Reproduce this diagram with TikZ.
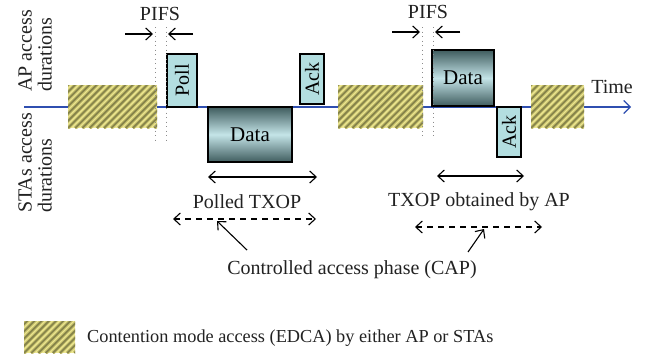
\documentclass[tikz,border=0pt]{standalone}
\usepackage{fontspec}
\usepackage{graphicx}
\setmainfont{Liberation Serif}
\usetikzlibrary{arrows.meta,calc}

\definecolor{axisblue}{HTML}{2F4FB0}
\definecolor{pollfill}{HTML}{B3DEE0}
\definecolor{datadark}{HTML}{3F5C5E}
\definecolor{datalight}{HTML}{C4E4E8}
\definecolor{edcabase}{HTML}{EEE892}
\definecolor{edcamid}{HTML}{C8C26E}
\definecolor{edcadark}{HTML}{85834A}
\definecolor{dotgray}{HTML}{8C8C8C}
\definecolor{textgray}{HTML}{222222}

\tikzset{
  barb/.tip={Straight Barb[length=6.5pt,width=12pt]},
  edca/.style={inner sep=0pt, fill=edcabase,
    path picture={
      \coordinate (pp) at (path picture bounding box.south west);
      \foreach \k in {-9,...,14}{
        \draw[edcamid, line width=3.8pt] ([xshift=\k*7.2pt]pp) -- ++(80pt,80pt);
        \draw[edcadark, line width=1.7pt] ([xshift=\k*7.2pt]pp) -- ++(80pt,80pt);
      }
    }},
  frame/.style={draw=black, line width=1.4pt, inner sep=0pt},
  ctrl/.style={frame, fill=pollfill},
  datablk/.style={frame, top color=datadark, bottom color=datadark, middle color=datalight,
    font=\fontsize{21}{22}\selectfont},
  guide/.style={dotgray, line width=1pt, dash pattern=on 1pt off 3.5pt},
  measure/.style={black, line width=1.1pt, {barb}-{barb}},
  span/.style={black, line width=1.1pt, dash pattern=on 6pt off 5pt, {barb}-{barb}},
  pointer/.style={black, line width=1.1pt, -{barb}},
  label/.style={text=textgray, inner sep=0pt},
}

\begin{document}
\begin{tikzpicture}[x=1pt,y=-1pt,font=\fontsize{20}{20}\selectfont]
\useasboundingbox[fill=white] (0,0) rectangle (647,356);

% time axis
\coordinate (t0) at (24,107);
\coordinate (t1) at (631,107);
\draw[axisblue, line width=1.1pt, -{Straight Barb[length=6.5pt,width=13pt]}] (t0) -- (t1);
\node[label] (time) at (612,87) {Time};

% side captions
\node[label, rotate=90, anchor=west, align=left] (aplab) at (35,92) {AP access\\durations};
\node[label, rotate=90, anchor=west, align=left] (stalab) at (35,213) {STAs access\\durations};

% contention periods
\node[edca, minimum width=89pt, minimum height=43pt] (c1) at (112.5,106.5) {};
\node[edca, minimum width=85pt, minimum height=43pt] (c2) at (380.5,106.5) {};
\node[edca, minimum width=53pt, minimum height=43pt] (c3) at (557.5,106.5) {};

% frames
\node[ctrl, minimum width=30pt, minimum height=53pt] (poll) at (182,80.5) {\rotatebox{90}{Poll}};
\node[ctrl, minimum width=24pt, minimum height=50pt] (ack1) at (312,79) {\rotatebox{90}{Ack}};
\node[datablk, minimum width=84pt, minimum height=55pt] (data1) at (250,134.5) {Data};
\node[datablk, minimum width=62pt, minimum height=56pt] (data2) at (463,78) {Data};
\node[ctrl, minimum width=24pt, minimum height=50pt] (ack2) at (509,132) {\rotatebox{90}{Ack}};

% PIFS guides
\coordinate (g1a) at (155,27);  \coordinate (g1b) at (155,140);
\coordinate (g2a) at (166,27);  \coordinate (g2b) at (166,140);
\coordinate (g3a) at (422,27);  \coordinate (g3b) at (422,136);
\coordinate (g4a) at (433,27);  \coordinate (g4b) at (433,136);
\draw[guide] (g1a) -- (g1b);
\draw[guide] (g2a) -- (g2b);
\draw[guide] (g3a) -- (g3b);
\draw[guide] (g4a) -- (g4b);

\node[label] (pifs1) at (160,14) {PIFS};
\node[label] (pifs2) at (428,12) {PIFS};
\coordinate (p1l) at (125,34); \coordinate (p1le) at (153,34);
\coordinate (p1r) at (193,34); \coordinate (p1re) at (168,34);
\coordinate (p2l) at (392,32); \coordinate (p2le) at (420,32);
\coordinate (p2r) at (460,32); \coordinate (p2re) at (435,32);
\draw[pointer] (p1l) -- (p1le);
\draw[pointer] (p1r) -- (p1re);
\draw[pointer] (p2l) -- (p2le);
\draw[pointer] (p2r) -- (p2re);

% TXOP spans
\coordinate (x1a) at (208,177); \coordinate (x1b) at (317,177);
\coordinate (x2a) at (437,176); \coordinate (x2b) at (524,176);
\draw[measure] (x1a) -- (x1b);
\draw[measure] (x2a) -- (x2b);
\node[label] (polled) at (247,202) {Polled TXOP};
\node[label] (obtained) at (479,202) {TXOP obtained by AP};

% controlled access phases
\coordinate (s1a) at (173,219); \coordinate (s1b) at (316,219);
\coordinate (s2a) at (415,227); \coordinate (s2b) at (542,227);
\draw[span] (s1a) -- (s1b);
\draw[span] (s2a) -- (s2b);
\node[label] (cap) at (352,270) {Controlled access phase (CAP)};
\coordinate (q1) at (247,250); \coordinate (q1e) at (217,221);
\coordinate (q2) at (468,252); \coordinate (q2e) at (484,229);
\draw[pointer] (q1) -- (q1e);
\draw[pointer] (q2) -- (q2e);

% legend
\node[edca, minimum width=51pt, minimum height=32pt] (key) at (49.5,337) {};
\node[label, anchor=west, font=\fontsize{18.3}{20}\selectfont] (keytext) at (87,338) {Contention mode access (EDCA) by either AP or STAs};
\end{tikzpicture}
\end{document}
